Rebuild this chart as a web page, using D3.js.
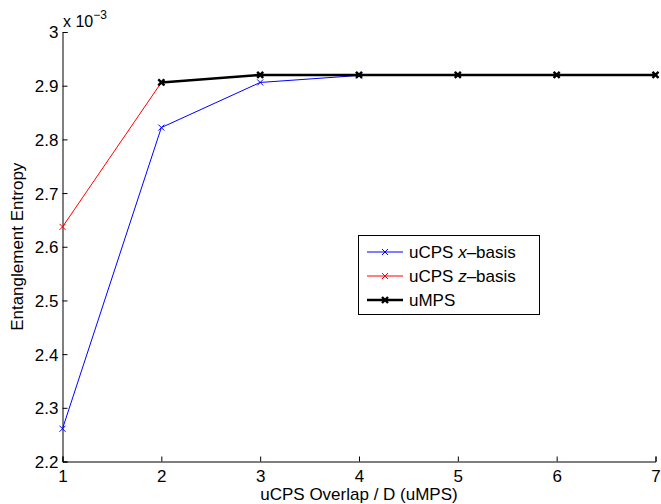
<!DOCTYPE html>
<html><head><meta charset="utf-8">
<script src="https://cdn.jsdelivr.net/npm/d3@7"></script>
<style>body{margin:0;background:#fff}svg{display:block;font-family:"Liberation Sans",Arial,sans-serif}</style>
</head><body><svg id="c" width="661" height="504"></svg>
<script>
const overlap = [1, 2, 3, 4, 5, 6, 7];
const xBasis = [2.261, 2.822, 2.906, 2.919, 2.920, 2.920, 2.920];
const zBasis = [2.637, 2.906, 2.920, 2.920, 2.920, 2.920, 2.920];
const umps   = [null, 2.906, 2.920, 2.920, 2.920, 2.920, 2.920];
const yTicks = [2.2, 2.3, 2.4, 2.5, 2.6, 2.7, 2.8, 2.9, 3];
const xTicks = [1, 2, 3, 4, 5, 6, 7];
const series = [
  {name: "x", data: xBasis, color: "#0000ff", w: 1, thick: false},
  {name: "z", data: zBasis, color: "#ff0000", w: 1, thick: false},
  {name: "uMPS", data: umps, color: "#000000", w: 2.6, thick: true}
];

const svg = d3.select("#c");
const FS = 17;
const L = 62.5, R = 655.5, T = 32, B = 461.5;
const x = d3.scaleLinear().domain([1, 7]).range([L, R]);
const y = d3.scaleLinear().domain([2.2, 3.0]).range([B, T]);

// axes
const xAx = svg.append("g").attr("transform", `translate(0,${B})`)
  .call(d3.axisBottom(x).tickValues(xTicks).tickSize(-5).tickPadding(8).tickFormat(d3.format("d")));
const yAx = svg.append("g").attr("transform", `translate(${L},0)`)
  .call(d3.axisLeft(y).tickValues(yTicks).tickSize(-5).tickPadding(4).tickFormat(d => d3.format(".1f")(d).replace(/^3\.0$/, "3")));
[xAx, yAx].forEach(g => {
  g.select(".domain").attr("stroke", "#000").attr("stroke-width", 1);
  g.selectAll(".tick line").attr("stroke", "#000");
  g.selectAll(".tick text").attr("fill", "#000").attr("font-size", FS).attr("font-family", '"Liberation Sans",Arial,sans-serif');
});
yAx.selectAll(".tick text").attr("dy", "0.35em");

// exponent label
const ex = svg.append("text").attr("x", 63).attr("y", 27).attr("font-size", 16).attr("fill", "#000");
ex.append("tspan").text("x 10");
ex.append("tspan").attr("font-size", 12).attr("dy", -8).text("−3");

// axis titles
svg.append("text").attr("x", (L + R) / 2).attr("y", 500).attr("text-anchor", "middle")
  .attr("font-size", FS).text("uCPS Overlap / D (uMPS)");
svg.append("text").attr("transform", `translate(23,${(T + B) / 2}) rotate(-90)`).attr("text-anchor", "middle")
  .attr("font-size", FS).text("Entanglement Entropy");

function marker(g, cx, cy, s) {
  const r = 3;
  g.append("path").attr("d", `M${cx - r},${cy - r}L${cx + r},${cy + r}M${cx - r},${cy + r}L${cx + r},${cy - r}`)
    .attr("stroke", s.color).attr("stroke-width", s.thick ? 2.4 : 1).attr("fill", "none");
}

const line = d3.line().defined(d => d[1] != null).x(d => x(d[0])).y(d => y(d[1]));
series.forEach(s => {
  const pts = overlap.map((o, i) => [o, s.data[i]]);
  const g = svg.append("g");
  g.append("path").datum(pts).attr("d", line).attr("fill", "none")
    .attr("stroke", s.color).attr("stroke-width", s.w).attr("stroke-linejoin", "round");
  pts.filter(p => p[1] != null).forEach(p => marker(g, x(p[0]), y(p[1]), s));
});

// legend
const lg = svg.append("g");
lg.append("rect").attr("x", 358.5).attr("y", 235.5).attr("width", 181).attr("height", 79)
  .attr("fill", "#fff").attr("stroke", "#000").attr("stroke-width", 1);
const labels = [
  [{t: "uCPS "}, {t: "x", i: true}, {t: "–basis"}],
  [{t: "uCPS "}, {t: "z", i: true}, {t: "–basis"}],
  [{t: "uMPS"}]
];
series.forEach((s, i) => {
  const cy = 252 + i * 24;
  lg.append("line").attr("x1", 367).attr("x2", 403).attr("y1", cy).attr("y2", cy)
    .attr("stroke", s.color).attr("stroke-width", s.w);
  marker(lg, 385, cy, s);
  const t = lg.append("text").attr("x", 409).attr("y", cy).attr("dy", "0.35em").attr("font-size", FS);
  labels[i].forEach(p => t.append("tspan").attr("font-style", p.i ? "italic" : null).text(p.t));
});
</script></body></html>
